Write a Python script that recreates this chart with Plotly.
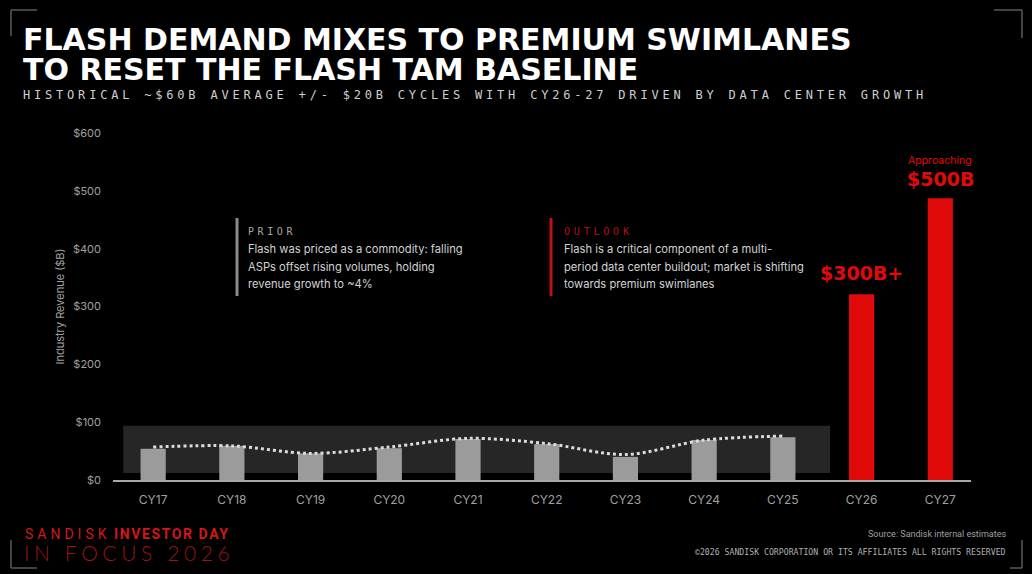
import plotly.graph_objects as go

# data
years = ["CY17", "CY18", "CY19", "CY20", "CY21", "CY22", "CY23", "CY24", "CY25", "CY26", "CY27"]
revenue = [54, 59, 46, 55, 71, 62, 40, 69, 74, 321, 487]
trend_years = years[:9]
trend = [57, 59, 46, 57, 72, 63, 44, 69, 76]
band_low, band_high = 12, 94
y_ticks = [0, 100, 200, 300, 400, 500, 600]
y_labels = ["$0", "$100", "$200", "$300", "$400", "$500", "$600"]

title_lines = ["FLASH DEMAND MIXES TO PREMIUM SWIMLANES", "TO RESET THE FLASH TAM BASELINE"]
subtitle = "HISTORICAL ~$60B AVERAGE +/- $20B CYCLES WITH CY26-27 DRIVEN BY DATA CENTER GROWTH"
prior_lines = ["Flash was priced as a commodity: falling",
               "ASPs offset rising volumes, holding",
               "revenue growth to ~4%"]
outlook_lines = ["Flash is a critical component of a multi-",
                 "period data center buildout; market is shifting",
                 "towards premium swimlanes"]

RED = "#e10a0a"
GREY_BAR = "#9b9b9b"
LABEL = "#a0a0a0"

# plot area in pixels
L, R, T, B = 113, 971, 133, 480
W, H = 1032, 574


def px(x):
    return (x - L) / (R - L)


def py(y):
    return (B - y) / (B - T)


idx = list(range(len(years)))
colors = [GREY_BAR] * 9 + [RED] * 2

fig = go.Figure()

fig.add_trace(go.Bar(
    x=idx,
    y=revenue,
    width=0.32,
    marker=dict(color=colors, line=dict(width=0)),
    hoverinfo="x+y",
    showlegend=False,
))

fig.add_trace(go.Scatter(
    x=idx[:len(trend)],
    y=trend,
    mode="lines",
    line=dict(color="#dcdcdc", width=3, dash="dot", shape="spline", smoothing=0.9),
    hoverinfo="skip",
    showlegend=False,
))

shapes = [
    # historical range band
    dict(type="rect", xref="x", yref="y", x0=-0.38, x1=8.6, y0=band_low, y1=band_high,
         fillcolor="#262626", line=dict(width=0), layer="below"),
    # callout bars
    dict(type="line", xref="paper", yref="paper", x0=px(237), x1=px(237), y0=py(218), y1=py(296),
         line=dict(color="#8a8a8a", width=3)),
    dict(type="line", xref="paper", yref="paper", x0=px(551), x1=px(551), y0=py(218), y1=py(296),
         line=dict(color="#c01010", width=3)),
]

# corner brackets
bracket = dict(color="#5a5a5a", width=1.5)
for (x0, y0, x1, y1) in [(11, 10, 37, 10), (11, 10, 11, 36),
                         (994, 10, 1022, 10), (1022, 10, 1022, 38),
                         (11, 540, 11, 568), (11, 568, 37, 568),
                         (1010, 568, 1022, 568), (1022, 540, 1022, 568)]:
    shapes.append(dict(type="line", xref="paper", yref="paper",
                       x0=px(x0), x1=px(x1), y0=py(y0), y1=py(y1), line=bracket))

annotations = [
    dict(text=title_lines[0], x=px(21), y=py(40), xanchor="left", yanchor="middle",
         font=dict(family="DejaVu Sans", size=30, color="#ffffff", weight="bold")),
    dict(text=title_lines[1], x=px(21), y=py(70), xanchor="left", yanchor="middle",
         font=dict(family="DejaVu Sans", size=30, color="#ffffff", weight="bold")),
    dict(text="<span style='letter-spacing:3.8px'>" + subtitle + "</span>",
         x=px(21), y=py(95), xanchor="left", yanchor="middle",
         font=dict(family="DejaVu Sans Mono", size=12, color="#cfcfcf")),
    # callout headers
    dict(text="<span style='letter-spacing:3.6px'>PRIOR</span>",
         x=px(246), y=py(231), xanchor="left", yanchor="middle",
         font=dict(family="DejaVu Sans Mono", size=10, color="#a8a8a8")),
    dict(text="<span style='letter-spacing:3.8px'>OUTLOOK</span>",
         x=px(562), y=py(231), xanchor="left", yanchor="middle",
         font=dict(family="DejaVu Sans Mono", size=10, color="#b81010")),
    # bar labels
    dict(text="$300B+", x=9, y=revenue[9], xref="x", yref="y", yanchor="bottom", yshift=8,
         font=dict(family="DejaVu Sans", size=19, color=RED, weight="bold")),
    dict(text="$500B", x=10, y=revenue[10], xref="x", yref="y", yanchor="bottom", yshift=6,
         font=dict(family="DejaVu Sans", size=19, color=RED, weight="bold")),
    dict(text="Approaching", x=10, y=revenue[10], xref="x", yref="y", yanchor="bottom", yshift=29,
         font=dict(family="Inter", size=10.5, color=RED)),
    # footer
    dict(text="<span style='letter-spacing:4px'>SANDISK</span> "
              "<span style='letter-spacing:1.6px'><b>INVESTOR DAY</b></span>",
         x=px(23), y=py(534), xanchor="left", yanchor="middle",
         font=dict(family="Roboto", size=14, color="#d01818")),
    dict(text="<span style='letter-spacing:4.6px'>IN FOCUS 2026</span>",
         x=px(22), y=py(552), xanchor="left", yanchor="middle",
         font=dict(family="Lato", size=21, color="#9a1414", weight=300)),
    dict(text="Source: Sandisk internal estimates",
         x=px(1008), y=py(534), xanchor="right", yanchor="middle",
         font=dict(family="Liberation Sans Narrow, Roboto", size=9, color="#a0a0a0")),
    dict(text="©2026 SANDISK CORPORATION OR ITS AFFILIATES ALL RIGHTS RESERVED",
         x=px(1008), y=py(552), xanchor="right", yanchor="middle",
         font=dict(family="DejaVu Sans Mono", size=8.2, color="#b0b0b0")),
]

# callout body lines, one annotation per line to match the slide's leading
for i, line in enumerate(prior_lines):
    annotations.append(dict(text=line, x=px(246), y=py(249 + 17.5 * i), xanchor="left", yanchor="middle",
                            font=dict(family="Inter", size=11.2, color="#d2d2d2")))
for i, line in enumerate(outlook_lines):
    annotations.append(dict(text=line, x=px(562), y=py(249 + 17.5 * i), xanchor="left", yanchor="middle",
                            font=dict(family="Inter", size=11.2, color="#d2d2d2")))

for a in annotations:
    a.setdefault("xref", "paper")
    a.setdefault("yref", "paper")
    a.setdefault("showarrow", False)

fig.update_layout(
    width=W,
    height=H,
    margin=dict(l=L, r=W - R, t=T, b=H - B, pad=0),
    paper_bgcolor="#000000",
    plot_bgcolor="#000000",
    font=dict(family="Inter", color=LABEL),
    xaxis=dict(
        range=[-0.51, 10.39],
        tickvals=idx,
        ticktext=years,
        showgrid=False,
        zeroline=False,
        showline=True,
        linecolor="#a8a8a8",
        linewidth=2,
        ticks="",
        ticklabelstandoff=8,
        tickfont=dict(family="Inter", size=12, color=LABEL),
        fixedrange=True,
    ),
    yaxis=dict(
        range=[0, 600],
        tickvals=y_ticks,
        ticktext=y_labels,
        showgrid=False,
        zeroline=False,
        showline=False,
        ticks="",
        ticklabelstandoff=11,
        tickfont=dict(family="Inter", size=11, color=LABEL),
        title=dict(text="Industry Revenue ($B)", standoff=6,
                   font=dict(family="Inter", size=11, color=LABEL)),
        fixedrange=True,
    ),
    shapes=shapes,
    annotations=annotations,
)

fig.write_html(
    "out.html",
    config={"displayModeBar": False},
    post_script="document.body.style.margin='0';document.body.style.background='#000';",
)
